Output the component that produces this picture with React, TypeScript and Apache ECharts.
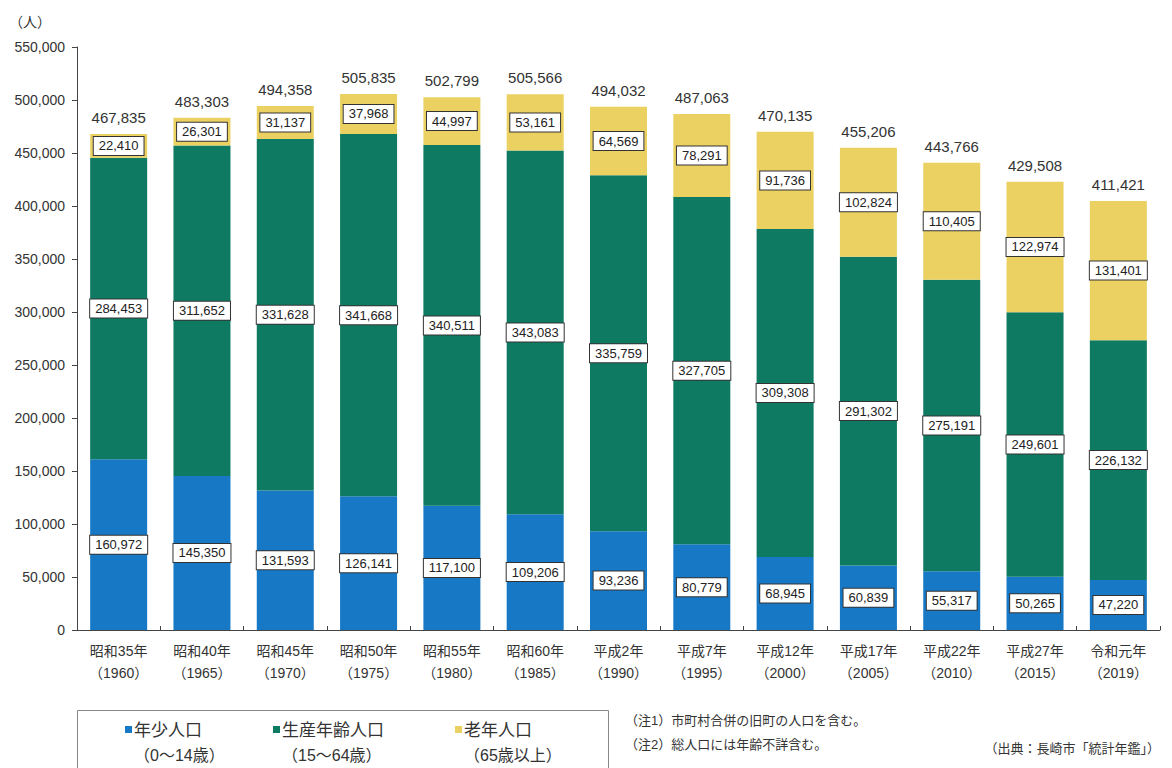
import React, { useEffect, useRef } from "react";
import * as echarts from "echarts";

const eras = ["昭和35年", "昭和40年", "昭和45年", "昭和50年", "昭和55年", "昭和60年", "平成2年", "平成7年", "平成12年", "平成17年", "平成22年", "平成27年", "令和元年"];
const years = ["1960", "1965", "1970", "1975", "1980", "1985", "1990", "1995", "2000", "2005", "2010", "2015", "2019"];
const youngPop = [160972, 145350, 131593, 126141, 117100, 109206, 93236, 80779, 68945, 60839, 55317, 50265, 47220];
const workingPop = [284453, 311652, 331628, 341668, 340511, 343083, 335759, 327705, 309308, 291302, 275191, 249601, 226132];
const elderlyPop = [22410, 26301, 31137, 37968, 44997, 53161, 64569, 78291, 91736, 102824, 110405, 122974, 131401];
const totalPop = [467835, 483303, 494358, 505835, 502799, 505566, 494032, 487063, 470135, 455206, 443766, 429508, 411421];
const seriesNames = ["年少人口", "生産年齢人口", "老年人口"];
const ageRanges = ["（0〜14歳）", "（15〜64歳）", "（65歳以上）"];
const yTicks = { min: 0, max: 550000, interval: 50000 };
const notes = ["（注1）市町村合併の旧町の人口を含む。", "（注2）総人口には年齢不詳含む。"];
const sourceText = "（出典：長崎市「統計年鑑」）";
const unitText = "（人）";

const colors = ["#1779c6", "#0e7a62", "#ebd162"];
const FONT = "'Liberation Sans', 'Noto Sans CJK JP', sans-serif";

const fmt = (v: number) => v.toLocaleString("en-US");

export default function App() {
  const ref = useRef<HTMLDivElement>(null);
  useEffect(() => {
    if (!ref.current) return;
    const chart = echarts.init(ref.current, null, { renderer: "svg" });
    const boxLabel = {
      show: true,
      position: "inside",
      formatter: (p: any) => fmt(p.value),
      color: "#222",
      fontSize: 13,
      fontFamily: FONT,
      backgroundColor: "#fff",
      borderColor: "#333",
      borderWidth: 1,
      padding: [3, 5, 2, 5],
    };
    const legendX = [125, 273, 455];
    const legendGraphics: any[] = [
      {
        type: "rect",
        shape: { x: 77.5, y: 710.5, width: 531, height: 70 },
        style: { fill: "none", stroke: "#888", lineWidth: 1 },
      },
    ];
    seriesNames.forEach((n, i) => {
      legendGraphics.push({
        type: "rect",
        shape: { x: legendX[i], y: 726, width: 7, height: 7 },
        style: { fill: colors[i] },
      });
      legendGraphics.push({
        type: "text",
        x: legendX[i] + 9,
        y: 730,
        style: { text: n, font: `17px ${FONT}`, fill: "#333", verticalAlign: "middle" },
      });
      legendGraphics.push({
        type: "text",
        x: legendX[i] + 9,
        y: 755,
        style: { text: ageRanges[i], font: `16px ${FONT}`, fill: "#333", verticalAlign: "middle" },
      });
    });
    chart.setOption({
      animation: false,
      backgroundColor: "#fff",
      grid: { left: 77, right: 12, top: 47, bottom: 138, containLabel: false },
      xAxis: {
        type: "category",
        data: eras.map((e, i) => `${e}\n（${years[i]}）`),
        axisLine: { lineStyle: { color: "#444", width: 1 } },
        axisTick: { show: true, inside: true, length: 4, lineStyle: { color: "#444" } },
        axisLabel: { color: "#333", fontSize: 14, fontFamily: FONT, lineHeight: 22, margin: 10 },
      },
      yAxis: {
        type: "value",
        min: yTicks.min,
        max: yTicks.max,
        interval: yTicks.interval,
        name: unitText,
        nameLocation: "end",
        nameGap: 18,
        nameTextStyle: { color: "#333", fontSize: 14, fontFamily: FONT, align: "right", padding: [0, 26, 0, 0] },
        axisLine: { show: true, lineStyle: { color: "#444", width: 1 } },
        axisTick: { show: true, length: 5, lineStyle: { color: "#444" } },
        splitLine: { show: false },
        axisLabel: { color: "#333", fontSize: 14, fontFamily: FONT, formatter: (v: number) => fmt(v), margin: 12 },
      },
      series: [
        { name: seriesNames[0], type: "bar", stack: "pop", data: youngPop, barWidth: 57, itemStyle: { color: colors[0] }, label: boxLabel },
        { name: seriesNames[1], type: "bar", stack: "pop", data: workingPop, barWidth: 57, itemStyle: { color: colors[1] }, label: boxLabel },
        { name: seriesNames[2], type: "bar", stack: "pop", data: elderlyPop, barWidth: 57, itemStyle: { color: colors[2] }, label: boxLabel },
        {
          name: "総人口",
          type: "bar",
          stack: "pop",
          data: totalPop.map(() => 0),
          barWidth: 57,
          itemStyle: { color: "transparent" },
          label: {
            show: true,
            position: "top",
            distance: 9,
            formatter: (p: any) => fmt(totalPop[p.dataIndex]),
            color: "#333",
            fontSize: 15,
            fontFamily: FONT,
          },
        },
      ],
      graphic: [
        ...legendGraphics,
        {
          type: "text",
          x: 625,
          y: 720,
          style: { text: notes[0], font: `13px ${FONT}`, fill: "#333", verticalAlign: "middle" },
        },
        {
          type: "text",
          x: 625,
          y: 744,
          style: { text: notes[1], font: `13px ${FONT}`, fill: "#333", verticalAlign: "middle" },
        },
        {
          type: "text",
          x: 1160,
          y: 748,
          style: { text: sourceText, font: `13px ${FONT}`, fill: "#333", align: "right", verticalAlign: "middle" },
        },
      ],
    });
    return () => chart.dispose();
  }, []);
  return <div ref={ref} style={{ position: "fixed", left: 0, top: 0, width: 1172, height: 768 }} />;
}
